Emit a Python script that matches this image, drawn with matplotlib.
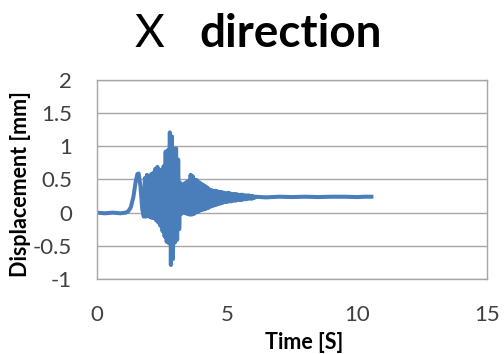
import numpy as np
import matplotlib
matplotlib.use("Agg")
import matplotlib.pyplot as plt

plt.rcParams["font.family"] = ["Lato", "DejaVu Sans"]

# Quiet record before the shaking and the first pulse
pre_time = [0.0, 0.3, 0.6, 0.9, 1.1, 1.2, 1.3, 1.4, 1.48, 1.55, 1.6, 1.67, 1.74, 1.8]
pre_disp = [0.0, -0.01, 0.0, -0.01, 0.0, 0.02, 0.08, 0.24, 0.45, 0.58, 0.59, 0.40, 0.05, -0.06]

# Strong shaking: successive peaks (high) and troughs (low), one cycle every 0.08 s
cycle_start = 1.84
cycle_step = 0.08
peak_high = [0.52, 0.57, 0.55, 0.58, 0.60, 0.66, 0.69, 0.65, 0.64, 0.70, 0.92, 0.94,
             1.21, 1.15, 0.95, 0.97, 0.80, 0.45, 0.42, 0.44, 0.46, 0.48, 0.57, 0.55,
             0.50, 0.49, 0.46, 0.44, 0.42, 0.40, 0.38, 0.35, 0.34, 0.33, 0.33, 0.32,
             0.31, 0.31, 0.30, 0.29, 0.30, 0.29, 0.28, 0.28, 0.28, 0.27, 0.27, 0.27,
             0.26, 0.26, 0.26, 0.25, 0.25]
peak_low = [-0.06, -0.05, -0.07, -0.08, -0.08, -0.12, -0.15, -0.20, -0.28, -0.36, -0.44, -0.46,
            -0.79, -0.70, -0.45, -0.41, -0.25, -0.02, 0.00, -0.01, -0.02, -0.03, -0.03, -0.02,
            0.00, 0.01, 0.03, 0.04, 0.05, 0.06, 0.07, 0.09, 0.10, 0.11, 0.12, 0.13,
            0.14, 0.15, 0.16, 0.16, 0.17, 0.17, 0.18, 0.18, 0.19, 0.19, 0.19, 0.20,
            0.20, 0.21, 0.21, 0.21, 0.22]

# Residual displacement after the shaking
post_time = [6.1, 6.5, 7.0, 7.5, 8.0, 8.5, 9.0, 9.5, 10.0, 10.3, 10.55]
post_disp = [0.24, 0.23, 0.24, 0.235, 0.24, 0.235, 0.24, 0.24, 0.235, 0.24, 0.24]

x_ticks = [0, 5, 10, 15]
y_ticks = [-1, -0.5, 0, 0.5, 1, 1.5, 2]
y_tick_labels = ["-1", "-0.5", "0", "0.5", "1", "1.5", "2"]

# Assemble the record: each cycle goes up to its peak then down to its trough
cyc_t = []
cyc_v = []
for i, (hi, lo) in enumerate(zip(peak_high, peak_low)):
    t0 = cycle_start + i * cycle_step
    cyc_t += [t0, t0 + cycle_step / 2]
    cyc_v += [hi, lo]

time = np.concatenate([pre_time, cyc_t, post_time])
disp = np.concatenate([pre_disp, cyc_v, post_disp])

fig = plt.figure(figsize=(5.04, 3.54), dpi=100)
ax = fig.add_axes([0.1925, 0.212, 0.774, 0.562])

ax.plot(time, disp, color="#4A7EBB", linewidth=2.9, solid_joinstyle="round")

ax.set_xlim(0, 15)
ax.set_ylim(-1, 2)
ax.set_xticks(x_ticks)
ax.set_yticks(y_ticks)
ax.set_yticklabels(y_tick_labels)
ax.tick_params(axis="both", length=0, labelsize=16)
ax.tick_params(axis="x", pad=19)
ax.tick_params(axis="y", pad=18)
for lbl in ax.get_xticklabels() + ax.get_yticklabels():
    lbl.set_color("#404040")

ax.grid(axis="y", color="#A6A6A6", linewidth=1.0)
ax.set_axisbelow(True)
for sp in ax.spines.values():
    sp.set_color("#A6A6A6")
    sp.set_linewidth(1.0)

fig.text(0.603, 0.014, "Time [S]", ha="center", va="baseline",
         fontsize=15.5, fontweight="bold", color="black")
fig.text(0.04, 0.48, "Displacement [mm]", ha="center", va="center", rotation=90,
         fontsize=15.5, fontweight="bold", color="black")

fig.text(0.266, 0.868, "X", ha="left", va="baseline", fontsize=33, color="black")
fig.text(0.396, 0.868, "direction", ha="left", va="baseline",
         fontsize=33, fontweight="bold", color="black")

fig.savefig("out.png", dpi=100, facecolor="white")
